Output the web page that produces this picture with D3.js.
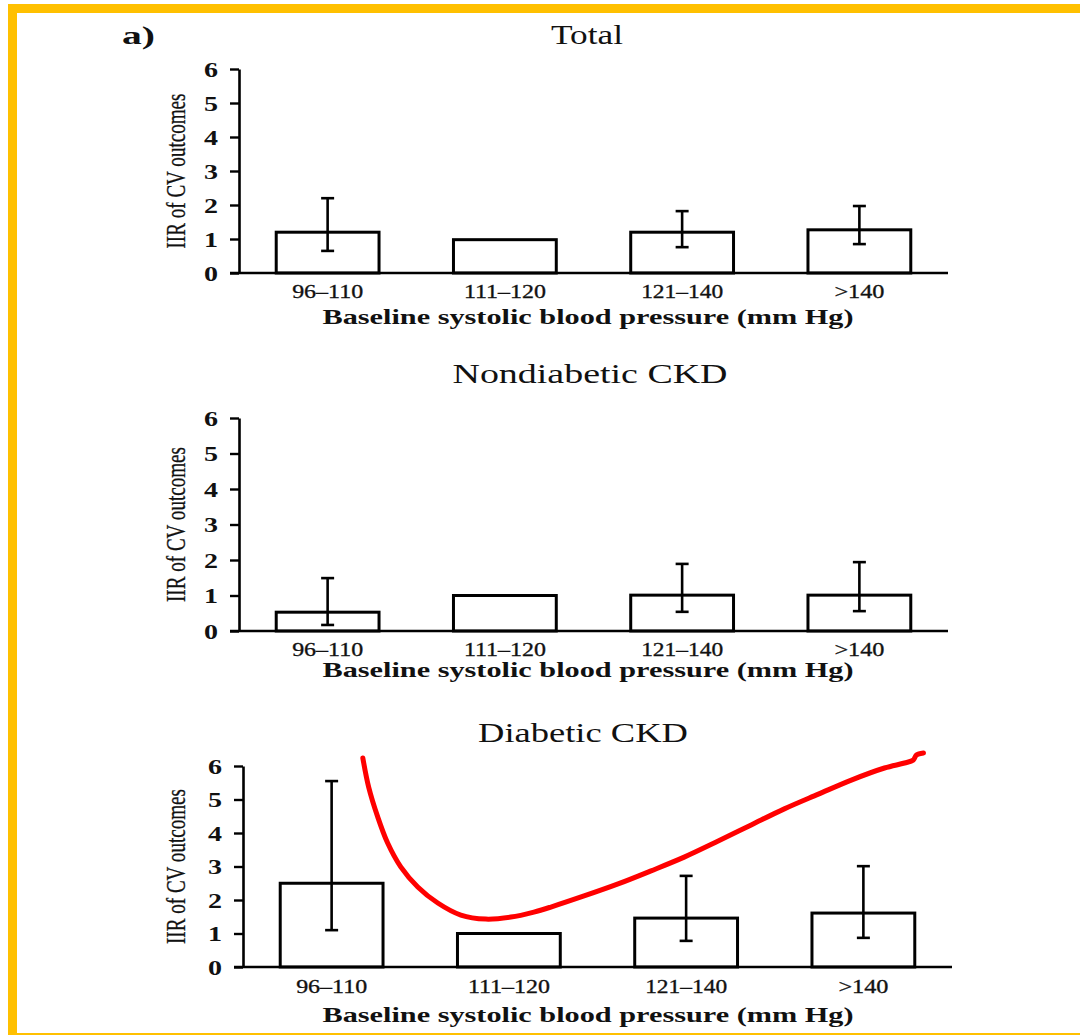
<!DOCTYPE html>
<html>
<head>
<meta charset="utf-8">
<script src="https://cdn.jsdelivr.net/npm/d3@7/dist/d3.min.js"></script>
<style>
  html, body { margin: 0; padding: 0; background: #fff; }
  svg { display: block; }
  text { font-family: "Liberation Serif", "Times New Roman", serif; fill: #111; }
</style>
</head>
<body>
<svg id="chart" width="1080" height="1035"></svg>
<script>
// Blood-pressure categories shared by all three panels
const categories = ["96–110", "111–120", "121–140", ">140"];
const yTicks = [0, 1, 2, 3, 4, 5, 6];

// Incidence rate ratios with 95% CI (reference group 111–120 has no interval)
const totalIRR  = [1.20, 0.98, 1.20, 1.27];
const totalLow  = [0.65, null, 0.76, 0.85];
const totalHigh = [2.20, null, 1.82, 1.97];

const nondiabIRR  = [0.53, 1.00, 1.01, 1.01];
const nondiabLow  = [0.17, null, 0.54, 0.56];
const nondiabHigh = [1.49, null, 1.89, 1.94];

const diabIRR  = [2.50, 1.00, 1.46, 1.61];
const diabLow  = [1.10, null, 0.78, 0.87];
const diabHigh = [5.55, null, 2.72, 3.01];

// Hand-drawn J-curve over the diabetic panel (x = category index, y = IRR)
const curveX = [0.176, 0.209, 0.260, 0.316, 0.390, 0.486, 0.599, 0.729, 0.870, 1.011, 1.141, 1.237, 1.424, 1.616, 1.802, 1.989, 2.181, 2.367, 2.554, 2.746, 2.932, 3.119, 3.232, 3.282, 3.299, 3.339];
const curveY = [6.24, 5.37, 4.48, 3.70, 2.99, 2.39, 1.91, 1.55, 1.43, 1.49, 1.64, 1.79, 2.12, 2.48, 2.87, 3.28, 3.76, 4.24, 4.72, 5.16, 5.58, 5.94, 6.09, 6.18, 6.33, 6.39];

const panels = [
  { title: "Total", irr: totalIRR, low: totalLow, high: totalHigh },
  { title: "Nondiabetic CKD", irr: nondiabIRR, low: nondiabLow, high: nondiabHigh },
  { title: "Diabetic CKD", irr: diabIRR, low: diabLow, high: diabHigh }
];

// Per-panel geometry
const layout = [
  { axisX: 239, xEnd: 948, y0: 273, yTop: 69,  titleY: 44,  titleW: 72,  titleX: 587, catY: 298, xTitleY: 324 },
  { axisX: 239, xEnd: 948, y0: 631, yTop: 418, titleY: 383, titleW: 275, titleX: 590, catY: 656, xTitleY: 677 },
  { axisX: 243, xEnd: 952, y0: 967, yTop: 766, titleY: 742, titleW: 210, titleX: 583, catY: 993, xTitleY: 1022 }
];
const catWidths = [71, 82, 82, 50];

const svg = d3.select("#chart");

// Frame
const frameColor = "#FFC000";
svg.append("rect").attr("x", 8).attr("y", 4).attr("width", 1072).attr("height", 9).attr("fill", frameColor);
svg.append("rect").attr("x", 8).attr("y", 4).attr("width", 9).attr("height", 1031).attr("fill", frameColor);
svg.append("rect").attr("x", 8).attr("y", 1033).attr("width", 1072).attr("height", 2).attr("fill", frameColor);

svg.append("text").attr("x", 122).attr("y", 44)
  .attr("font-size", 26).attr("font-weight", "bold")
  .attr("textLength", 33).attr("lengthAdjust", "spacingAndGlyphs")
  .text("a)");

panels.forEach((p, i) => {
  const L = layout[i];
  const g = svg.append("g");

  const x = d3.scaleBand().domain(categories).range([L.axisX, L.xEnd])
    .paddingInner(0.42).paddingOuter(0.21);
  const y = d3.scaleLinear().domain([0, 6]).range([L.y0, L.yTop]);

  // Title
  g.append("text").attr("x", L.titleX).attr("y", L.titleY)
    .attr("text-anchor", "middle").attr("font-size", 27)
    .attr("textLength", L.titleW).attr("lengthAdjust", "spacingAndGlyphs")
    .text(p.title);

  // Bars
  g.selectAll("rect.bar").data(p.irr).join("rect")
    .attr("class", "bar")
    .attr("x", (d, j) => x(categories[j]))
    .attr("y", d => y(d))
    .attr("width", x.bandwidth())
    .attr("height", d => y(0) - y(d))
    .attr("fill", "#fff").attr("stroke", "#000").attr("stroke-width", 3);

  // Error bars
  const ci = p.irr.map((d, j) => ({ c: categories[j], lo: p.low[j], hi: p.high[j] }))
    .filter(d => d.lo !== null);
  const eg = g.selectAll("g.err").data(ci).join("g").attr("class", "err")
    .attr("stroke", "#000").attr("stroke-width", 2.6);
  const cx = d => x(d.c) + x.bandwidth() / 2;
  eg.append("line").attr("x1", cx).attr("x2", cx).attr("y1", d => y(d.lo)).attr("y2", d => y(d.hi));
  eg.append("line").attr("x1", d => cx(d) - 6.5).attr("x2", d => cx(d) + 6.5).attr("y1", d => y(d.hi)).attr("y2", d => y(d.hi));
  eg.append("line").attr("x1", d => cx(d) - 6.5).attr("x2", d => cx(d) + 6.5).attr("y1", d => y(d.lo)).attr("y2", d => y(d.lo));

  // Y axis
  const yAxis = d3.axisLeft(y).tickValues(yTicks).tickSize(9).tickSizeOuter(0).tickPadding(12)
    .tickFormat(d3.format("d"));
  const ya = g.append("g").attr("transform", `translate(${L.axisX},0)`).call(yAxis);
  ya.select(".domain").attr("stroke", "#000").attr("stroke-width", 2.6);
  ya.selectAll(".tick line").attr("stroke", "#000").attr("stroke-width", 2.4);
  ya.selectAll(".tick text")
    .attr("font-family", "'Liberation Serif', serif")
    .attr("font-size", 20).attr("font-weight", "bold").attr("fill", "#111")
    .attr("dy", "0.36em")
    .attr("textLength", 14).attr("lengthAdjust", "spacingAndGlyphs");

  // X axis baseline and category labels
  g.append("line").attr("x1", L.axisX - 9).attr("x2", L.xEnd).attr("y1", y(0)).attr("y2", y(0))
    .attr("stroke", "#000").attr("stroke-width", 2.6);
  g.selectAll("text.cat").data(categories).join("text")
    .attr("class", "cat")
    .attr("x", d => x(d) + x.bandwidth() / 2)
    .attr("y", L.catY)
    .attr("text-anchor", "middle").attr("font-size", 18)
    .attr("stroke", "#111").attr("stroke-width", 0.3)
    .attr("textLength", (d, j) => catWidths[j]).attr("lengthAdjust", "spacingAndGlyphs")
    .text(d => d);

  // Axis titles
  g.append("text").attr("x", 588).attr("y", L.xTitleY)
    .attr("text-anchor", "middle").attr("font-size", 21).attr("font-weight", "bold")
    .attr("textLength", 531).attr("lengthAdjust", "spacingAndGlyphs")
    .text("Baseline systolic blood pressure (mm Hg)");
  g.append("text")
    .attr("transform", `translate(185,${(L.y0 + L.yTop) / 2}) rotate(-90)`)
    .attr("text-anchor", "middle").attr("font-size", 28)
    .attr("stroke", "#111").attr("stroke-width", 0.3)
    .attr("textLength", 155).attr("lengthAdjust", "spacingAndGlyphs")
    .text("IIR of CV outcomes");

  // Red J-curve drawn over the diabetic panel
  if (i === 2) {
    const xi = d3.scaleLinear().domain([0, 3])
      .range([x(categories[0]) + x.bandwidth() / 2, x(categories[3]) + x.bandwidth() / 2]);
    const pts = curveX.map((v, k) => [xi(v), y(curveY[k])]);
    g.append("path").attr("d", d3.line().curve(d3.curveCatmullRom.alpha(0.5))(pts))
      .attr("fill", "none").attr("stroke", "#ff0000").attr("stroke-width", 5)
      .attr("stroke-linecap", "round").attr("stroke-linejoin", "round");
  }
});
</script>
</body>
</html>
